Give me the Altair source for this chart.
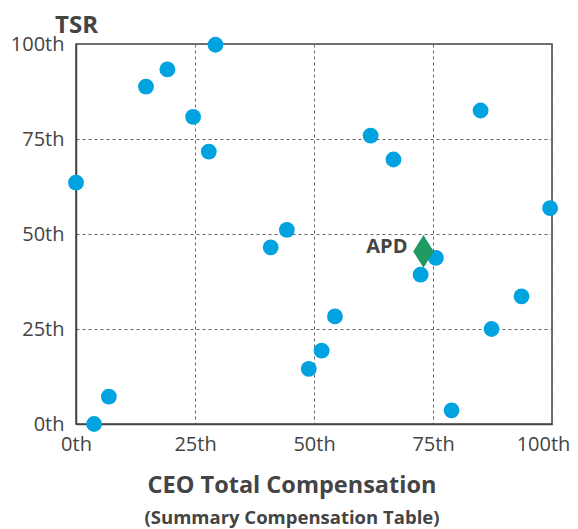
import altair as alt
import pandas as pd

# Peer percentiles
comp_pct = [0, 3.8, 6.9, 14.7, 19.2, 24.6, 27.9, 29.3, 40.9, 44.3, 48.9,
            51.6, 54.4, 61.9, 66.7, 72.4, 75.6, 78.9, 85.0, 87.3, 93.6, 99.6]
tsr_pct = [63.5, 0, 7.2, 88.8, 93.3, 80.8, 71.7, 99.8, 46.5, 51.1, 14.5,
           19.3, 28.3, 75.9, 69.6, 39.3, 43.7, 3.6, 82.5, 25.0, 33.6, 56.8]

apd_label = ["APD"]
apd_comp = [73.0]
apd_tsr = [45.4]

tick_values = [0, 25, 50, 75, 100]

peers = pd.DataFrame({"comp": comp_pct, "tsr": tsr_pct})
apd = pd.DataFrame({"comp": apd_comp, "tsr": apd_tsr, "label": apd_label})

FONT = "Open Sans"
TXT = "#444444"

label_expr = "datum.value + 'th'"

xscale = alt.Scale(domain=[0, 100], nice=False, zero=False)
yscale = alt.Scale(domain=[0, 100], nice=False, zero=False)

xaxis = alt.Axis(values=tick_values, labelExpr=label_expr, title=None,
                 grid=True, gridDash=[3, 3], gridColor="#666666", gridWidth=1,
                 ticks=False, domainColor=TXT, domainWidth=1.5,
                 labelFont=FONT, labelFontSize=20, labelColor=TXT,
                 labelPadding=10, labelFlush=False,
                 labelOffset={"condition": {"test": "datum.value == 100", "value": -9},
                              "value": 0})
yaxis = alt.Axis(values=tick_values, labelExpr=label_expr, title="TSR",
                 grid=True, gridDash=[3, 3], gridColor="#666666", gridWidth=1,
                 ticks=False, domainColor=TXT, domainWidth=1.5,
                 labelFont=FONT, labelFontSize=20, labelColor=TXT,
                 labelPadding=12, labelFlush=False,
                 titleAngle=0, titleAlign="center", titleBaseline="alphabetic",
                 titleX=0, titleY=-12, titleFont=FONT, titleFontSize=24,
                 titleFontWeight="bold", titleColor=TXT)

points = alt.Chart(peers).mark_point(
    shape="circle", filled=True, size=250, color="#00A3E0", opacity=1,
    clip=False
).encode(
    x=alt.X("comp:Q", scale=xscale, axis=xaxis),
    y=alt.Y("tsr:Q", scale=yscale, axis=yaxis),
)

diamond = alt.Chart(apd).mark_point(
    shape="M0,-1.6L1,0L0,1.6L-1,0Z", filled=True, size=420,
    color="#1E9A62", opacity=1, strokeWidth=0
).encode(
    x=alt.X("comp:Q", scale=xscale),
    y=alt.Y("tsr:Q", scale=yscale),
)

label = alt.Chart(apd).mark_text(
    align="right", baseline="middle", dx=-16, dy=-4,
    font=FONT, fontSize=20, fontWeight="bold", color=TXT
).encode(
    x=alt.X("comp:Q", scale=xscale),
    y=alt.Y("tsr:Q", scale=yscale),
    text="label:N",
)

chart = alt.layer(points, diamond, label).properties(
    width=476, height=380,
    autosize=alt.AutoSizeParams(type="none"),
    padding={"left": 68, "top": 36, "right": 18, "bottom": 105},
    title=alt.Title(
        text="CEO Total Compensation",
        subtitle="(Summary Compensation Table)",
        orient="bottom", anchor="middle", dx=-22, offset=20,
        font=FONT, fontSize=23.5, fontWeight="bold", color=TXT,
        subtitleFont=FONT, subtitleFontSize=18.5, subtitleFontWeight="bold",
        subtitleColor=TXT, subtitlePadding=11,
    ),
).configure_view(stroke=TXT, strokeWidth=1.5)

chart.save("out.html", embed_options={"renderer": "svg", "actions": False})
